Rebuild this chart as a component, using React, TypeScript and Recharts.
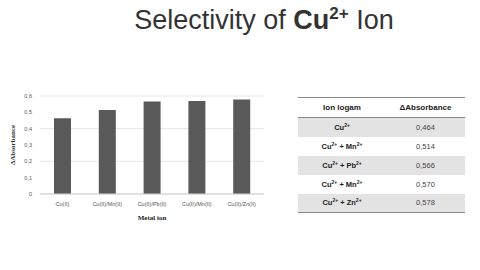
import { Bar, BarChart, CartesianGrid, XAxis, YAxis } from 'recharts';

const categories = ['Cu(II)', 'Cu(II)/Mn(II)', 'Cu(II)/Pb(II)', 'Cu(II)/Mn(II)', 'Cu(II)/Zn(II)'];
const absorbance = [0.464, 0.514, 0.566, 0.57, 0.578];
const yTicks = [0, 0.1, 0.2, 0.3, 0.4, 0.5, 0.6];

// table rows: ion (base + superscript parts) and value text
const tableIons = [
    [['Cu', '2+']],
    [['Cu', '2+'], ['Mn', '2+']],
    [['Cu', '2+'], ['Pb', '2+']],
    [['Cu', '2+'], ['Mn', '2+']],
    [['Cu', '2+'], ['Zn', '2+']],
];
const tableValues = ['0,464', '0,514', '0,566', '0,570', '0,578'];

const data = categories.map((label, i) => ({ label, value: absorbance[i] }));

const fmt = (v: number) => (v === 0 ? '0' : String(v).replace('.', ','));

function IonCell({ parts }: { parts: string[][] }) {
    return (
        <span>
            {parts.map((p, i) => (
                <span key={i}>
                    {i > 0 && ' + '}
                    {p[0]}
                    <sup style={{ fontSize: 5, verticalAlign: 3, lineHeight: 0 }}>{p[1]}</sup>
                </span>
            ))}
        </span>
    );
}

export default function App() {
    return (
        <div
            style={{
                position: 'absolute',
                left: 0,
                top: 0,
                width: 480,
                height: 270,
                background: '#fff',
                overflow: 'hidden',
                fontFamily: '"Liberation Sans", Arial, sans-serif',
            }}
        >
            <div
                style={{
                    position: 'absolute',
                    left: 0,
                    width: 528,
                    top: 5,
                    textAlign: 'center',
                    fontSize: 27,
                    color: '#333',
                }}
            >
                Selectivity of <b>Cu<sup style={{ fontSize: 17, verticalAlign: 10, lineHeight: 0 }}>2+</sup></b> Ion
            </div>

            <div style={{ position: 'absolute', left: 0, top: 80 }}>
                <BarChart
                    width={280}
                    height={150}
                    data={data}
                    margin={{ top: 16, right: 16, left: 0, bottom: 0 }}
                    barCategoryGap={0}
                >
                    <CartesianGrid vertical={false} stroke="#dedede" strokeWidth={0.8} />
                    <XAxis
                        dataKey="label"
                        height={36}
                        tick={{ fontSize: 5.5, fill: '#555' }}
                        tickLine={false}
                        axisLine={{ stroke: '#d0d0d0' }}
                        interval={0}
                        label={{
                            value: 'Metal ion',
                            position: 'insideBottom',
                            offset: 10,
                            style: { fontSize: 7, fontWeight: 'bold', fontFamily: '"Liberation Serif", serif', fill: '#222' },
                        }}
                    />
                    <YAxis
                        width={40}
                        domain={[0, 0.6]}
                        ticks={yTicks}
                        tickFormatter={fmt}
                        tick={{ fontSize: 5.5, fill: '#555' }}
                        tickLine={false}
                        axisLine={false}
                        label={{
                            value: 'ΔAbsorbance',
                            angle: -90,
                            position: 'insideLeft',
                            offset: 13,
                            style: { textAnchor: 'middle', fontSize: 7, fontWeight: 'bold', fontFamily: '"Liberation Serif", serif', fill: '#333' },
                        }}
                    />
                    <Bar dataKey="value" fill="#595959" barSize={17} isAnimationActive={false} />
                </BarChart>
            </div>

            <table
                style={{
                    position: 'absolute',
                    left: 298,
                    top: 97,
                    width: 167,
                    borderCollapse: 'collapse',
                    fontSize: 7.5,
                    color: '#222',
                    borderTop: '1px solid #888',
                    borderBottom: '1px solid #888',
                }}
            >
                <thead>
                    <tr style={{ height: 20, borderBottom: '1px solid #888' }}>
                        <th style={{ width: 88, padding: 0, fontWeight: 600, fontSize: 8 }}>Ion logam</th>
                        <th style={{ padding: 0, fontWeight: 600, fontSize: 8 }}>ΔAbsorbance</th>
                    </tr>
                </thead>
                <tbody>
                    {tableIons.map((parts, i) => (
                        <tr key={i} style={{ height: 19, background: i % 2 === 0 ? '#e3e3e3' : '#fff' }}>
                            <td style={{ textAlign: 'center', padding: 0, fontWeight: 'bold' }}>
                                <IonCell parts={parts} />
                            </td>
                            <td style={{ textAlign: 'center', padding: 0, color: '#444' }}>{tableValues[i]}</td>
                        </tr>
                    ))}
                </tbody>
            </table>
        </div>
    );
}
